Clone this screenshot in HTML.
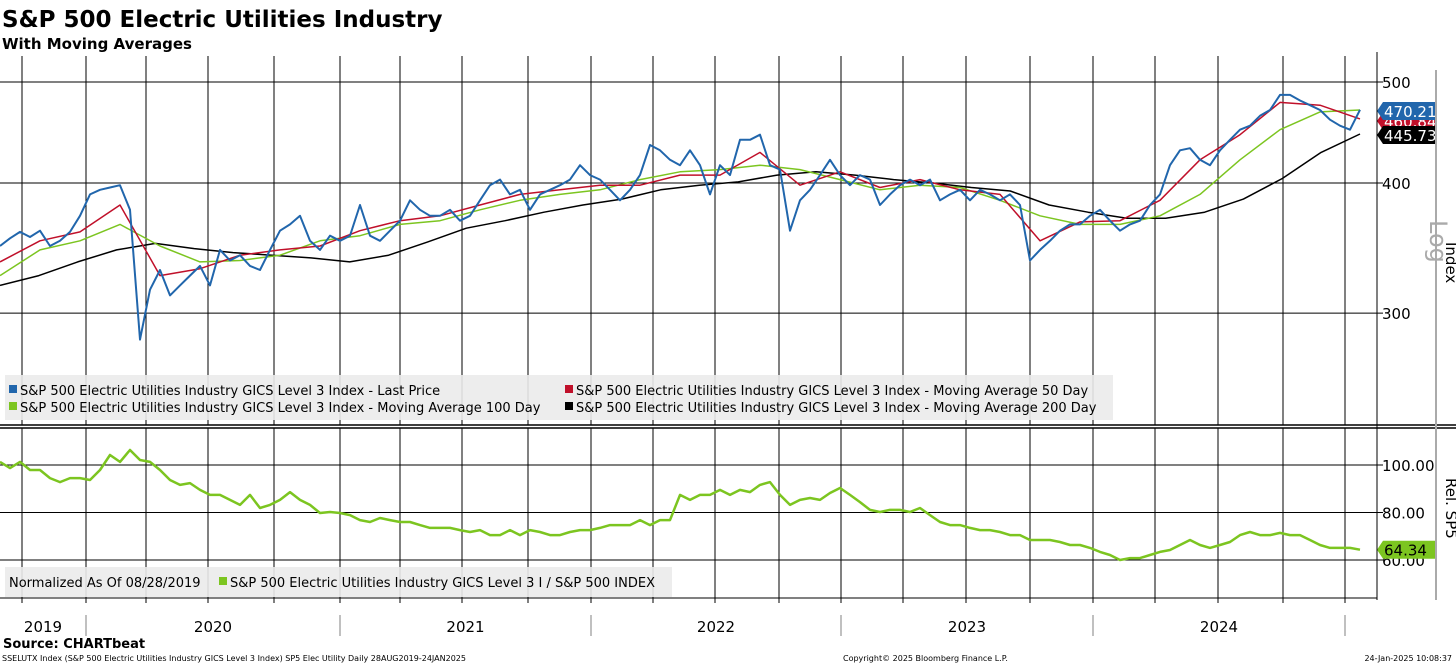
<!DOCTYPE html>
<html><head><meta charset="utf-8"><style>
body{margin:0;background:#fff;font-family:"DejaVu Sans","Liberation Sans",sans-serif;}
svg text{font-family:"DejaVu Sans","Liberation Sans",sans-serif;}
</style></head><body>
<svg id="c" width="1456" height="665" viewBox="0 0 1456 665" xmlns="http://www.w3.org/2000/svg">
<text x="2" y="27" font-size="23" font-weight="bold">S&amp;P 500 Electric Utilities Industry</text>
<text x="2" y="49" font-size="15" font-weight="bold">With Moving Averages</text>
<g id="grid"></g>
<g id="series"></g>
<line x1="0" y1="425" x2="1456" y2="425" stroke="#000" stroke-width="1.5"/>
<line x1="0" y1="428" x2="1456" y2="428" stroke="#000" stroke-width="1.5"/>
<line x1="1377" y1="52" x2="1377" y2="600" stroke="#000" stroke-width="1"/>
<line x1="1436" y1="70" x2="1436" y2="600" stroke="#aaa" stroke-width="2"/>
<text transform="translate(1446,242) rotate(90)" font-size="15">Index</text>
<text transform="translate(1430,220) rotate(90)" font-size="24" fill="#aaa">Log</text>
<text transform="translate(1446,478) rotate(90)" font-size="15">Rel. SP5</text>
<rect x="5" y="375" width="1108" height="45" fill="#ebebeb" opacity="0.9"/>
<rect x="9" y="385" width="8" height="8" fill="#2166ac"/><text x="20" y="395" font-size="13">S&amp;P 500 Electric Utilities Industry GICS Level 3 Index - Last Price</text>
<rect x="565" y="385" width="8" height="8" fill="#c0102a"/><text x="576" y="395" font-size="13">S&amp;P 500 Electric Utilities Industry GICS Level 3 Index - Moving Average 50 Day</text>
<rect x="9" y="402" width="8" height="8" fill="#7cc520"/><text x="20" y="412" font-size="13">S&amp;P 500 Electric Utilities Industry GICS Level 3 Index - Moving Average 100 Day</text>
<rect x="565" y="402" width="8" height="8" fill="#000"/><text x="576" y="412" font-size="13">S&amp;P 500 Electric Utilities Industry GICS Level 3 Index - Moving Average 200 Day</text>
<rect x="5" y="567" width="667" height="30" fill="#ebebeb" opacity="0.9"/>
<text x="9" y="587" font-size="13">Normalized As Of 08/28/2019</text>
<rect x="219" y="577" width="8" height="8" fill="#7cc520"/><text x="230" y="587" font-size="13">S&amp;P 500 Electric Utilities Industry GICS Level 3 I / S&amp;P 500 INDEX</text>
<g id="labels"></g>
<text x="3" y="648" font-size="13" font-weight="bold">Source: CHARTbeat</text>
<text x="2" y="661" font-size="8">SSELUTX Index (S&amp;P 500 Electric Utilities Industry GICS Level 3 Index) SP5 Elec Utility  Daily 28AUG2019-24JAN2025</text>
<text x="843" y="661" font-size="8">Copyright© 2025 Bloomberg Finance L.P.</text>
<text x="1452" y="661" font-size="8" text-anchor="end">24-Jan-2025 10:08:37</text>
</svg>
<script>
const price=[348,354,359,355,360,348,352,359,372,390,394,396,398,377,283,316,330,312,319,326,333,319,345,337,341,333,330,345,360,365,372,352,345,356,352,356,381,356,352,360,368,385,377,372,372,377,368,372,385,398,403,390,394,377,390,394,398,403,416,407,403,394,385,394,407,435,430,421,416,430,416,390,416,407,440,440,445,416,412,360,385,394,407,421,407,398,407,403,381,390,398,403,398,403,385,390,394,385,394,390,385,390,381,337,345,352,360,365,365,372,377,368,360,365,368,381,390,416,430,432,421,416,430,440,450,454,464,470,486,486,480,475,470,460,454,450,470.21];
const ma200=[319,326,336,345,350,346,343,341,339,336,341,351,362,368,375,381,386,394,398,401,407,410,407,403,400,396,393,381,375,370,370,375,386,404,428,445.73];
const ma100=[326,345,352,365,348,336,337,341,352,356,365,368,377,385,390,394,403,410,412,416,412,403,394,398,396,385,372,365,365,372,390,421,450,468,470];
const ma50=[336,352,359,381,326,331,341,345,348,360,368,372,381,390,394,398,398,407,407,428,398,410,396,403,394,390,352,367,368,385,421,445,478,475,460.84];
const rel=[101.3,98.7,101.3,97.9,97.9,94.5,92.8,94.5,94.5,93.7,97.9,104.2,101.3,106.3,102.1,101.3,97.9,93.7,91.6,92.4,89.5,87.4,87.4,85.3,83.2,87.4,81.9,83.2,85.3,88.6,85.3,83.2,79.8,80.2,79.8,78.9,76.8,76,77.7,76.8,76,76,74.7,73.5,73.5,73.5,72.6,71.8,72.6,70.5,70.5,72.6,70.5,72.6,71.8,70.5,70.5,71.8,72.6,72.6,73.5,74.7,74.7,74.7,76.8,74.7,76.8,76.8,87.4,85.3,87.4,87.4,89.5,87.4,89.5,88.6,91.6,92.8,87.4,83.2,85.3,86.1,85.3,88.2,90.3,87.4,84.4,81.1,80.2,81.1,81.1,80.2,81.9,78.9,76,74.7,74.7,73.5,72.6,72.6,71.8,70.5,70.5,68.4,68.4,68.4,67.6,66.3,66.3,65.1,63.4,62.1,60,60.8,60.8,62.1,63.4,64.2,66.3,68.4,66.3,65.1,66.3,67.6,70.5,71.8,70.5,70.5,71.4,70.5,70.5,68.4,66.3,65.1,65.1,65.1,64.34];
const topTicks=[500,400,300];
const relTicks=[100,80,60];
const years=["2019","2020","2021","2022","2023","2024"];
const NS="http://www.w3.org/2000/svg";
const X0=0,X1=1360;
function yTop(v){return 82-1042*Math.log10(v/500);}
function yRel(v){return 465+(100-v)*47.5/20;}
function xIdx(i,n){return X0+(X1-X0)*i/(n-1);}
function mk(t,a,p){const e=document.createElementNS(NS,t);for(const k in a)e.setAttribute(k,a[k]);(p||document.getElementById('series')).appendChild(e);return e;}
const grid=document.getElementById('grid');
// quarter gridlines
const qx=[22,86,146,208,274,340,400,462,528,591,653,715,779,841,903,966,1030,1093,1155,1218,1283,1345];
qx.forEach(x=>{mk('line',{x1:x,y1:56,x2:x,y2:425,stroke:'#000','stroke-width':1},grid);mk('line',{x1:x,y1:428,x2:x,y2:597,stroke:'#000','stroke-width':1},grid);mk('line',{x1:x,y1:597,x2:x,y2:603,stroke:'#000'},grid);});
topTicks.forEach(v=>{const y=yTop(v);mk('line',{x1:0,y1:y,x2:1383,y2:y,stroke:'#000'},grid);
const t=mk('text',{x:1382,y:y+6,'font-size':15},grid);t.textContent=v;

});
relTicks.forEach(v=>{const y=yRel(v);mk('line',{x1:0,y1:y,x2:1383,y2:y,stroke:'#000'},grid);
const t=mk('text',{x:1382,y:y+6,'font-size':15},grid);t.textContent=v.toFixed(2);

});
mk('line',{x1:0,y1:598,x2:1377,y2:598,stroke:'#000'},grid);
const sep=[0,86,340,591,841,1093,1345,1377];
sep.slice(1,-1).forEach(x=>mk('line',{x1:x,y1:615,x2:x,y2:636,stroke:'#aaa','stroke-width':1.5},grid));
years.forEach((y,i)=>{const t=mk('text',{x:(sep[i]+sep[i+1])/2-(i==0?0:0),y:632,'font-size':15,'text-anchor':'middle'},document.getElementById('labels'));t.textContent=y;

});
function line(arr,fy,col,w,name){const d=arr.map((v,i)=>(i?'L':'M')+xIdx(i,arr.length).toFixed(1)+' '+fy(v).toFixed(1)).join('');
const p=mk('path',{d:d,fill:'none',stroke:col,'stroke-width':w,'stroke-linejoin':'round'});

}
line(ma200,yTop,'#000',1.5,'ma200-line');
line(ma100,yTop,'#7cc520',1.5,'ma100-line');
line(ma50,yTop,'#c0102a',1.5,'ma50-line');
line(price,yTop,'#2166ac',2,'last-price-line');
line(rel,yRel,'#7cc520',2.5,'relative-line');
function tag(v,y,bg,fg,name){const g=mk('g',{});
mk('path',{d:`M1377 ${y} L1383 ${y-9} L1436 ${y-9} L1436 ${y+9} L1383 ${y+9} Z`,fill:bg},g);
const t=mk('text',{x:1384,y:y+6,'font-size':15,fill:fg},g);t.textContent=v;

}
tag(ma50[ma50.length-1].toFixed(2),121,'#c0102a','#fff','ma50-value-tag');
tag(price[price.length-1].toFixed(2),111,'#2166ac','#fff','price-value-tag');
tag(ma200[ma200.length-1].toFixed(2),135,'#000','#fff','ma200-value-tag');
tag(rel[rel.length-1].toFixed(2),yRel(rel[rel.length-1]),'#7cc520','#000','rel-value-tag');
</script>
</body></html>
